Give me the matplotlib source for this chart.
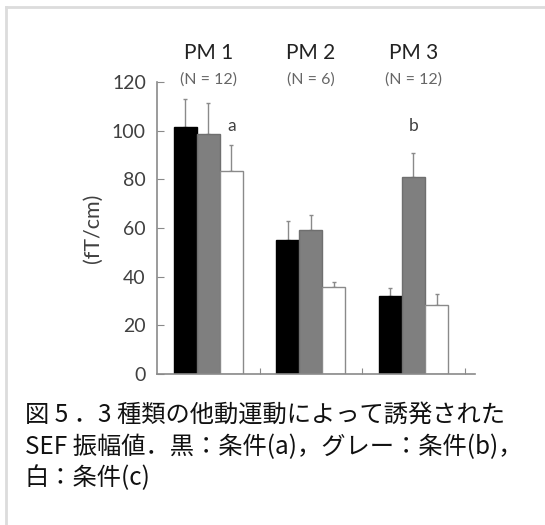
import numpy as np
import matplotlib
matplotlib.use("Agg")
import matplotlib.pyplot as plt
from matplotlib.lines import Line2D

plt.rcParams['font.family'] = ['Lato', 'Noto Sans CJK JP', 'DejaVu Sans']

# data
groups = ["PM 1", "PM 2", "PM 3"]
n_labels = ["(N = 12)", "(N = 6)", "(N = 12)"]
cond_a = [101.5, 55.0, 32.2]   # black
cond_b = [98.8, 59.2, 81.0]    # gray
cond_c = [83.4, 35.6, 28.5]    # white
err_a = [11.4, 8.0, 3.1]
err_b = [12.7, 6.3, 10.0]
err_c = [10.6, 2.4, 4.4]
yticks = [0, 20, 40, 60, 80, 100, 120]
caption = ["図 5 ．3 種類の他動運動によって誘発された",
           "SEF 振幅値．黒：条件(a)，グレー：条件(b)，",
           "白：条件(c)"]

axis_col = "#8a8a8a"
text_col = "#404040"

fig = plt.figure(figsize=(5.45, 5.25), dpi=100)
ax = fig.add_axes([157 / 545, 1 - 374 / 525, 318 / 545, 292 / 525])

x = np.arange(len(groups))
w = 0.225
series = [(cond_a, err_a, "black", "black"),
          (cond_b, err_b, "#7f7f7f", "#6f6f6f"),
          (cond_c, err_c, "white", axis_col)]
for i, (vals, errs, fc, ec) in enumerate(series):
    xs = x + (i - 1) * w
    ax.bar(xs, vals, width=w, color=fc, edgecolor=ec, linewidth=1.0, zorder=2)
    ax.errorbar(xs, vals, yerr=[np.zeros(len(errs)), errs], fmt="none",
                ecolor=axis_col, elinewidth=1.0, capsize=1.5, capthick=1.0, zorder=1)

ax.set_xlim(-0.5, 2.6)
ax.set_ylim(0, 120)
ax.set_yticks(yticks)
ax.set_xticks([0.5, 1.5, 2.5])
ax.set_xticklabels([])
ax.tick_params(axis="y", direction="in", length=5, color=axis_col,
               labelsize=14, labelcolor=text_col, pad=8)
ax.tick_params(axis="x", direction="in", length=4, color=axis_col)
for s in ["top", "right"]:
    ax.spines[s].set_visible(False)
for s in ["left", "bottom"]:
    ax.spines[s].set_color(axis_col)
    ax.spines[s].set_linewidth(1.2)

ax.set_ylabel("(fT/cm)", fontsize=15.5, color=text_col)
ax.yaxis.set_label_coords(-0.17, 0.5)

for xi, g, n in zip(x, groups, n_labels):
    ax.text(xi, 132, g, ha="center", va="center", fontsize=15, color="#222222", clip_on=False)
    ax.text(xi, 121, n, ha="center", va="center", fontsize=11.5, color="#666666", clip_on=False)

ax.text(x[0] + w, 102, "a", ha="center", va="center", fontsize=12.5, color=text_col)
ax.text(x[2], 102, "b", ha="center", va="center", fontsize=12.5, color=text_col)

# caption
cap_y = [415, 447, 478]
for line, yy in zip(caption, cap_y):
    fig.text(25 / 545, 1 - yy / 525, line, ha="left", va="center", fontsize=17.5,
             color="#111111", family=["Noto Sans CJK JP", "DejaVu Sans"])

# light frame on top and left
fig.add_artist(Line2D([6 / 545, 1], [1 - 7 / 525, 1 - 7 / 525], color="#dcdcdc", lw=2))
fig.add_artist(Line2D([6 / 545, 6 / 545], [0, 1 - 7 / 525], color="#dcdcdc", lw=2))

fig.savefig("out.png", dpi=100)
